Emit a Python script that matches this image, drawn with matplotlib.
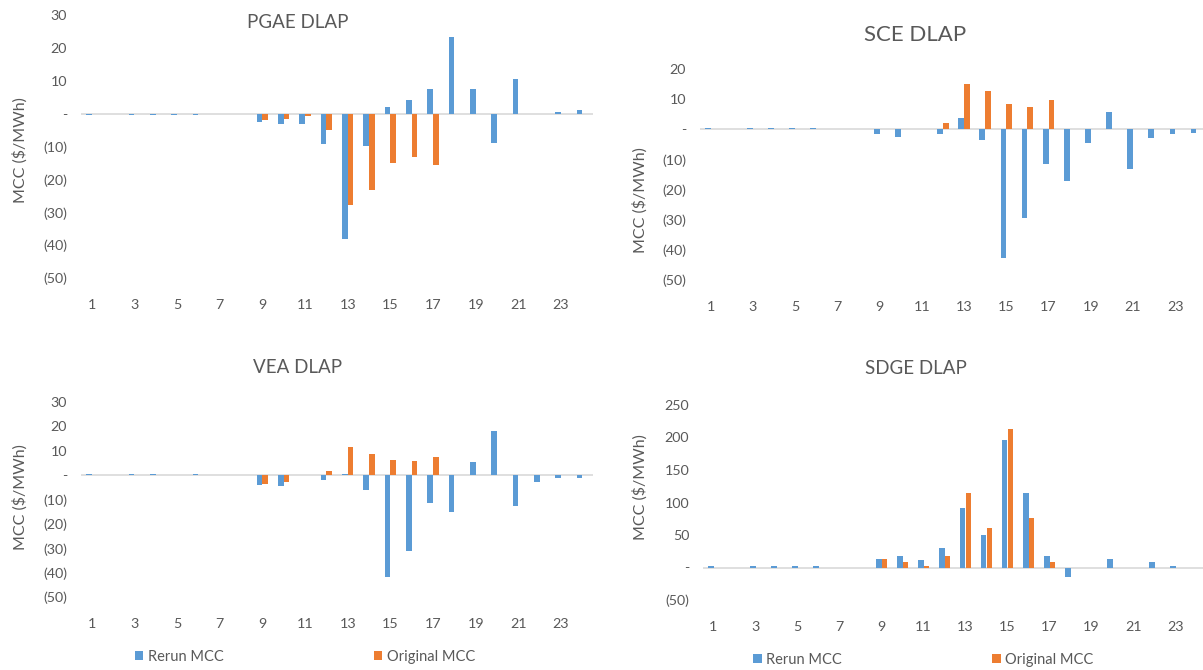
import numpy as np
import matplotlib
matplotlib.use("Agg")
import matplotlib.pyplot as plt
from matplotlib.ticker import FuncFormatter, FixedLocator

plt.rcParams['font.family'] = ['Lato', 'DejaVu Sans']

hours = np.arange(1, 25)
tick_hours = list(range(1, 24, 2))

pgae_rerun = [-0.5, 0, -0.5, -0.5, -0.5, -0.5, 0, 0, -2.4, -3.3, -3.3, -9.2,
              -38.1, -9.7, 1.9, 4.0, 7.5, 23.4, 7.5, -8.9, 10.5, 0, 0.5, 1.0]
pgae_orig = [0, 0, 0, 0, 0, 0, 0, 0, -2.0, -1.5, -0.6, -5.0,
             -27.8, -23.1, -15.0, -13.2, -15.7, 0, 0, 0, 0, 0, 0, 0]

sce_rerun = [0.3, 0, 0.3, 0.3, 0.3, 0.3, 0, 0, -1.5, -2.4, 0, -1.5,
             3.7, -3.4, -42.6, -29.4, -11.4, -17.1, -4.4, 5.6, -13.3, -3.0, -1.5, -1.1]
sce_orig = [0, 0, 0, 0, 0, 0, 0, 0, 0, 0, 0, 2.2,
            14.9, 12.6, 8.3, 7.4, 9.8, 0, 0, 0, 0, 0, 0, 0]

vea_rerun = [0.3, 0, 0.3, 0.3, 0, 0.3, 0, 0, -4.0, -4.6, 0, -1.8,
             0.5, -5.9, -41.7, -31.2, -11.6, -15.1, 5.2, 18.0, -12.8, -3.0, -1.2, -1.2]
vea_orig = [0, 0, 0, 0, 0, 0, 0, 0, -3.5, -3.0, 0, 1.6,
            11.6, 8.6, 6.3, 5.7, 7.5, 0, 0, 0, 0, 0, 0, 0]

sdge_rerun = [2, 0, 2, 2, 2, 2, 0, 0, 13.3, 17.4, 11.3, 30.7,
              91.7, 50.7, 196.7, 115.3, 17.4, -14.9, 0, 13.3, 0, 9.2, 2, 0]
sdge_orig = [0, 0, 0, 0, 0, 0, 0, 0, 13.3, 9.2, 2.6, 17.4,
             115.3, 61.0, 213.6, 76.3, 9.2, 0, 0, 0, 0, 0, 0, 0]

BLUE = '#5B9BD5'
ORANGE = '#ED7D31'
GREY = '#595959'

W, H = 1203, 670
fig = plt.figure(figsize=(W / 100, H / 100), dpi=100)


def acct(v, pos):
    if abs(v) < 1e-9:
        return '-'
    if v < 0:
        return '(%d)' % abs(v)
    return '%d' % v


def panel(box, rerun, orig, ylim, ystep, title, title_xy, ylab_xy,
          title_size=13.5, legend_y=None):
    left, top, right, bottom = box
    ax = fig.add_axes([left / W, 1 - bottom / H, (right - left) / W, (bottom - top) / H])
    w = 0.27
    ax.bar(hours - w / 2, rerun, w, color=BLUE, label='Rerun MCC', zorder=3)
    ax.bar(hours + w / 2, orig, w, color=ORANGE, label='Original MCC', zorder=3)
    ax.axhline(0, color='#D9D9D9', lw=1.2, zorder=2)
    ax.set_xlim(0.5, 24.5)
    ax.set_ylim(*ylim)
    ax.yaxis.set_major_locator(FixedLocator(np.arange(ylim[0], ylim[1] + 1, ystep)))
    ax.yaxis.set_major_formatter(FuncFormatter(acct))
    ax.set_xticks(tick_hours)
    for s in ax.spines.values():
        s.set_visible(False)
    ax.tick_params(axis='both', length=0, labelsize=10.3, labelcolor=GREY)
    ax.tick_params(axis='x', pad=15)
    ax.tick_params(axis='y', pad=10)
    fig.text(title_xy[0] / W, 1 - title_xy[1] / H, title, ha='center', va='center',
             fontsize=title_size, color=GREY)
    fig.text(ylab_xy[0] / W, 1 - ylab_xy[1] / H, 'MCC ($/MWh)', ha='center', va='center',
             rotation=90, fontsize=11.5, color=GREY)
    if legend_y is not None:
        ax.legend(loc='center', bbox_to_anchor=(0.437, 1 - (legend_y - top) / (bottom - top)),
                  ncol=2, frameon=False, fontsize=10.5, labelcolor=GREY,
                  handlelength=0.6, handleheight=0.6, handletextpad=0.3,
                  columnspacing=10.3)
    return ax


panel((81, 15, 593, 278), pgae_rerun, pgae_orig, (-50, 30), 10,
      'PGAE DLAP', (298, 22), (20, 150))
panel((700, 69, 1207, 280), sce_rerun, sce_orig, (-50, 20), 10,
      'SCE DLAP', (915, 35), (640, 200), title_size=16)
panel((81, 402, 593, 597), vea_rerun, vea_orig, (-50, 30), 10,
      'VEA DLAP', (298, 367), (20, 497), legend_y=657)
panel((703, 405, 1207, 600), sdge_rerun, sdge_orig, (-50, 250), 50,
      'SDGE DLAP', (916, 368), (640, 487), legend_y=660)

fig.savefig('out.png', dpi=100)
